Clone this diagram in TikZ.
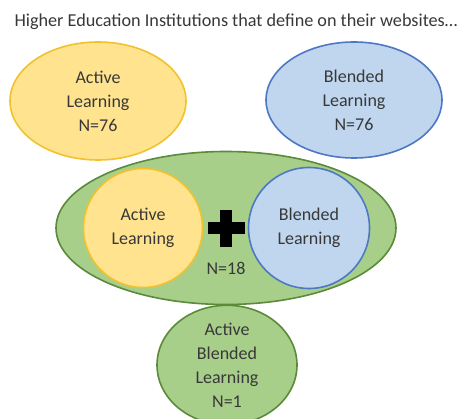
\documentclass[tikz,border=0pt]{standalone}
\usepackage{fontspec}
\setmainfont{Carlito}
\usetikzlibrary{shapes.geometric}
\definecolor{yfill}{HTML}{FFE38F}
\definecolor{ydraw}{HTML}{F2C12E}
\definecolor{bfill}{HTML}{BFD6EE}
\definecolor{bdraw}{HTML}{4F78C4}
\definecolor{gfill}{HTML}{A8CF8A}
\definecolor{gdraw}{HTML}{5A8A3A}
\definecolor{txt}{HTML}{383838}
\tikzset{
  blob/.style={ellipse, line width=1.6pt, inner sep=0pt, text=txt, align=center,
    font=\fontsize{18}{24}\selectfont},
  yblob/.style={blob, fill=yfill, draw=ydraw},
  bblob/.style={blob, fill=bfill, draw=bdraw},
  gblob/.style={blob, fill=gfill, draw=gdraw},
  lbl/.style={text=txt, font=\fontsize{18}{24}\selectfont, align=center}
}
\begin{document}
\begin{tikzpicture}[x=1pt,y=-1pt]
\useasboundingbox (0,0) rectangle (474,419);
\node[lbl, font=\fontsize{18.2}{20}\selectfont] (title) at (236,22) {Higher Education Institutions that define on their websites\dots};
\node[yblob, minimum width=176pt, minimum height=118pt] (al) at (98,101) {Active\\Learning\\N=76};
\node[bblob, minimum width=176pt, minimum height=116pt] (bl) at (354,100) {Blended\\Learning\\N=76};
\node[gblob, minimum width=340pt, minimum height=153pt] (both) at (226,228) {};
\node[yblob, circle, minimum size=119pt] (al2) at (143,228) {Active\\Learning};
\node[bblob, circle, minimum size=121pt] (bl2) at (309,228) {Blended\\Learning};
\node[lbl] (n18) at (226,268) {N=18};
\fill[black] (220,210) rectangle (232,247);
\fill[black] (208,222.5) rectangle (244.5,234.5);
\node[gblob, minimum width=140pt, minimum height=112pt] (abl) at (227,365) {Active\\Blended\\Learning\\N=1};
\end{tikzpicture}
\end{document}
